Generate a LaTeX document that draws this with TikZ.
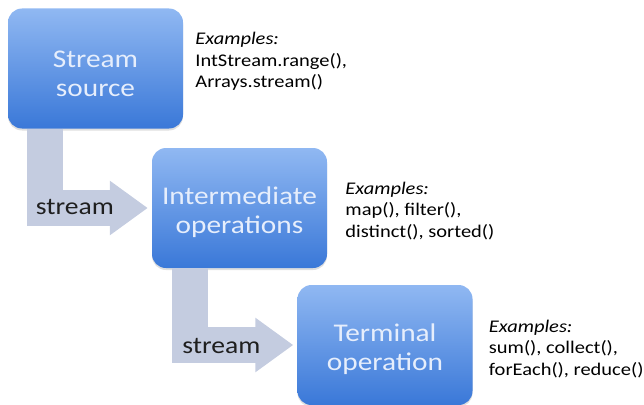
\documentclass[tikz,border=0pt]{standalone}
\usepackage{fontspec}
\setmainfont{Carlito}[FakeStretch=1.15]
\usetikzlibrary{positioning}
\usetikzlibrary{arrows.meta}
\usetikzlibrary{shadows}
\definecolor{boxtop}{RGB}{144,184,242}
\definecolor{boxbottom}{RGB}{58,120,216}
\definecolor{boxtext}{RGB}{230,238,252}
\definecolor{flowgray}{RGB}{196,204,224}
\newcommand{\lowtext}{\rule{0pt}{27pt}}
\begin{document}
\begin{tikzpicture}[x=1pt,y=-1pt,
    stage/.style={rounded corners=14pt,minimum width=175pt,minimum height=120pt,inner sep=0pt,
      top color=boxtop,bottom color=boxbottom,text=boxtext,align=center,
      font=\fontsize{25.5}{29}\selectfont,
      drop shadow={shadow xshift=0pt,shadow yshift=-2pt,opacity=0.25}},
    examples/.style={anchor=north west,inner sep=0pt,align=left,font=\fontsize{17.8}{21.5}\selectfont},
    flow/.style={draw=flowgray,line width=36pt,line join=miter,-{Triangle[length=38pt,width=52pt]},shorten >=4pt},
    flowlabel/.style={font=\fontsize{24}{28}\selectfont,text=black!88}]
            \useasboundingbox (0,0) rectangle (644,404);
            \node[stage] (source) at (95.5,68.5) {\lowtext Stream\\source};
            \node[stage] (inter) at (239.5,208) {\lowtext Intermediate\\operations};
            \node[stage] (term) at (385,345) {\lowtext Terminal\\operation};
            \node[examples] (source ex) at ([xshift=12pt,yshift=-24pt]source.north east) {\textit{Examples:}\\IntStream.range(),\\Arrays.stream()};
            \node[examples] (inter ex) at ([xshift=18pt,yshift=-34pt]inter.north east) {\textit{Examples:}\\map(), filter(),\\distinct(), sorted()};
            \node[examples] (term ex) at ([xshift=16pt,yshift=-35pt]term.north east) {\textit{Examples:}\\sum(), collect(),\\forEach(), reduce()};
            \draw[flow] ([xshift=37pt]source.south west) |- (inter.west);
            \draw[flow] ([xshift=38pt]inter.south west) |- (term.west);
            \node[flowlabel] (stream a) at ([xshift=-77pt,yshift=1pt]inter.west) {stream};
            \node[flowlabel] (stream b) at ([xshift=-76pt,yshift=-1pt]term.west) {stream};
        \end{tikzpicture}
\end{document}
